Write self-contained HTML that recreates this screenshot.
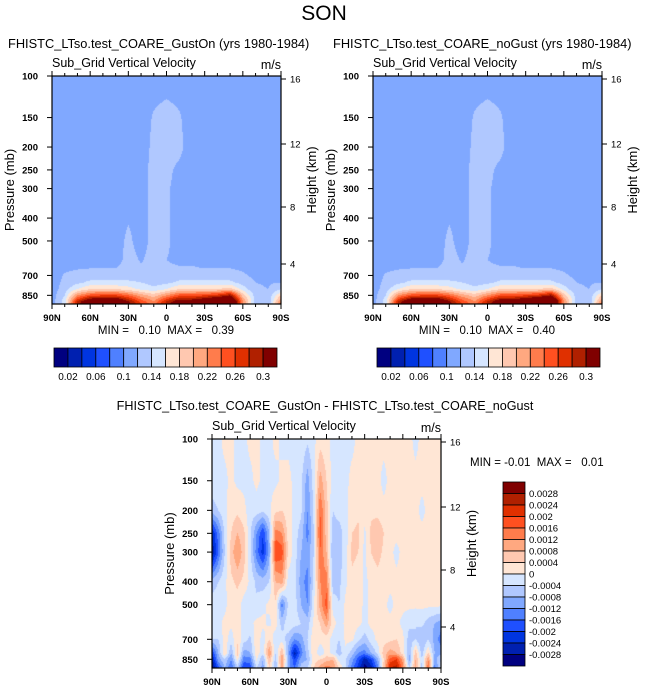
<!DOCTYPE html>
<html><head><meta charset="utf-8">
<style>
body{margin:0;background:#fff;width:648px;height:693px;overflow:hidden;position:relative;font-family:"Liberation Sans",Arial,sans-serif;}
.t{position:absolute;white-space:nowrap;color:#000;}
canvas{position:absolute;}
svg{position:absolute;left:0;top:0;}
</style></head>
<body>
<div class="t" style="left:0;width:648px;text-align:center;top:2px;font-size:21px;">SON</div>
<div class="t" style="left:8px;top:36px;font-size:12.8px;">FHISTC_LTso.test_COARE_GustOn (yrs 1980-1984)</div>
<div class="t" style="left:333px;top:36px;font-size:12.8px;">FHISTC_LTso.test_COARE_noGust (yrs 1980-1984)</div>
<div class="t" style="left:0;width:650px;text-align:center;top:399px;font-size:12.6px;">FHISTC_LTso.test_COARE_GustOn - FHISTC_LTso.test_COARE_noGust</div>
<canvas id="c1" width="229" height="228" style="left:52px;top:76px"></canvas>
<canvas id="c2" width="229" height="228" style="left:373px;top:76px"></canvas>
<canvas id="c3" width="229" height="229" style="left:212px;top:439px"></canvas>
<svg id="s" width="648" height="693"></svg>
<script>
const palette=["#000080","#0020b0","#0035e0","#1f50ff","#4f80ff","#80a8ff","#b0c8ff","#d6e6ff","#ffe6d5","#ffc8b0","#ffa880","#ff7c4c","#ff5020","#e03000","#b02000","#800000"];
const topLevels=[0.02,0.04,0.06,0.08,0.10,0.12,0.14,0.16,0.18,0.20,0.22,0.24,0.26,0.28,0.30];
const topLabels=["0.02","","0.06","","0.1","","0.14","","0.18","","0.22","","0.26","","0.3"];
const diffLevels=[-0.0028,-0.0024,-0.002,-0.0016,-0.0012,-0.0008,-0.0004,0,0.0004,0.0008,0.0012,0.0016,0.002,0.0024,0.0028];
const diffLabels=["-0.0028","-0.0024","-0.002","-0.0016","-0.0012","-0.0008","-0.0004","0","0.0004","0.0008","0.0012","0.0016","0.002","0.0024","0.0028"];
const pTicks=[100,150,200,250,300,400,500,700,850];
const latLabels=["90N","60N","30N","0","30S","60S","90S"];
const hTicks=["16","12","8","4"];
const topLats=[90,80,70,60,50,40,30,20,10,0,-10,-20,-30,-40,-50,-60,-70,-80,-90];
const topP=[100,150,200,250,300,400,500,600,700,750,800,850,900,925];
const gustOn=[
[11,11,11,11,11,11,11,11,11,11,11,11,11,11,11,11,11,11,11],
[11,11,11,11,11,11,11,11,12.2,12.8,12.2,11,11,11,11,11,11,11,11],
[11,11,11,11,11,11,11,11,12.5,12.9,12.5,11,11,11,11,11,11,11,11],
[11,11,11,11,11,11,11,11,12.8,12.4,11.6,11,11,11,11,11,11,11,11],
[11,11,11,11,11,11,11,11,12.8,12.2,11.5,11,11,11,11,11,11,11,11],
[11,11,11,11,11,11,11.8,11,12.8,12.4,11,11,11,11,11,11,11,11,11],
[11,11,11,11,11,11,12.5,11,12.8,12.4,11,11,11,11,11,11,11,11,11],
[11,11,11,11,11,11,12.8,11.8,12.8,12,11.5,11.5,11,11,11,11,11,11,11],
[11,12.2,12.6,12.8,12.8,12.8,12.8,12.6,12.5,12.6,12.8,12.8,12.8,12.8,12.8,12.3,11.5,11,11],
[11,12.5,13.5,14.5,14.5,14.5,14.5,14,13.2,13.5,14.5,14.5,14.5,14.5,14.5,13.2,12,11.8,12],
[11,13,16,18,18,18,17,15.5,14.5,16,18,18,18,18,19,15,12.3,12,14],
[11,14,22,25,26,26,24,21,19,22,25,25,26,27,30,19,13,12.5,18],
[11,15,28,34,35,35,30,25,22,28,32,32,34,37,39,22,13,12,22],
[11,15,29,35,36,36,31,26,23,29,33,33,35,38,39,22,13,12,24]];
const noGust=gustOn.map(r=>r.map(v=>v>30?v+0.6:v));
const diffLats=[];for(let i=0;i<37;i++)diffLats.push(90-5*i);
const diffP=[100,150,200,250,300,400,500,600,700,800,850,925];
const diffVals=[
[-1,-1,1,1,-1,-1,1,1,-1,-1,1,-1,-1,-1,-1,-3,-1,2,1,-1,-1,-1,-1,1,1,1,1,1,1,1,1,1,-1,1,1,1,1],
[-1,-1,-1,1,-1,-1,-1,1,-1,-1,-1,1,1,-1,-3,-10,-2,10,4,-2,-1,-1,1,1,1,1,1,-1,1,1,1,1,1,1,1,1,1],
[-6,-4,-1,2,3,1,-2,-2,-3,-1,3,4,1,-1,-3,-12,-3,16,6,-4,-2,-1,2,3,2,3,2,1,1,1,1,1,1,-1,1,1,1],
[-24,-14,-3,4,8,5,-3,-12,-20,-8,14,12,2,-2,-6,-14,-4,18,6,-6,-6,-2,4,5,-1,5,8,4,1,1,1,1,1,1,1,1,1],
[-28,-16,-4,6,12,6,-3,-14,-22,-10,20,18,3,-2,-8,-10,-4,16,8,-8,-6,-2,5,4,-1,4,6,3,1,-1,1,1,1,1,1,1,1],
[-6,-4,-1,3,5,3,-1,-5,-6,-4,8,10,-2,-3,-10,-14,-2,12,14,-6,-5,-1,3,2,-1,1,2,2,1,1,1,1,1,1,1,1,1],
[-2,-2,-1,2,2,-2,-3,-3,-1,1,3,-14,-3,-2,-8,-12,-1,10,18,-2,-4,1,3,2,-1,1,1,1,-1,1,1,1,1,1,1,1,1],
[-1,-1,1,1,1,-1,-1,1,1,-1,2,-6,-1,-2,-4,-6,1,4,10,2,-2,1,2,1,-1,1,1,1,1,1,-1,-3,-4,-3,-6,-8,-10],
[-4,-4,2,-2,3,-2,-5,3,-2,4,-3,-2,-6,-12,-10,-4,3,2,2,-2,-4,1,1,-3,-6,-2,1,2,3,4,1,-6,-4,-8,-4,-10,-14],
[-20,-8,4,-8,6,-10,-8,3,-3,12,-4,8,-10,-26,-14,-6,4,-4,2,-2,-6,-1,-6,-12,-14,-8,-3,6,10,8,2,-8,6,-6,4,-8,-10],
[-26,-10,-4,-12,2,-14,-14,1,-8,8,-6,12,-8,-20,-10,-8,2,4,6,8,-2,-4,-10,-18,-26,-20,-10,4,18,20,10,-10,8,-4,12,-10,-4],
[-30,-18,-8,-16,-6,-20,-18,-4,-10,4,-8,10,-10,-16,-6,-4,4,10,14,12,4,-4,-14,-22,-30,-26,-14,6,24,26,14,-4,10,-6,16,-14,-2]];

const NS="http://www.w3.org/2000/svg";
const svg=document.getElementById('s');
function mk(tag,attrs,name,text){const e=document.createElementNS(NS,tag);for(const k in attrs)e.setAttribute(k,attrs[k]);


if(text!==undefined)e.textContent=text;svg.appendChild(e);return e;}
function binColor(v,levels){let i=0;while(i<levels.length&&v>=levels[i])i++;return palette[i];}
function interp(arr,x){
  if(arr[0]>arr[arr.length-1]){for(let i=0;i<arr.length-1;i++){if(x<=arr[i]&&x>=arr[i+1])return i+(arr[i]-x)/(arr[i]-arr[i+1]);}return x>arr[0]?0:arr.length-1;}
  const lx=Math.log(x);for(let i=0;i<arr.length-1;i++){const a=Math.log(arr[i]),b=Math.log(arr[i+1]);if(lx>=a&&lx<=b)return i+(lx-a)/(b-a);}return lx<Math.log(arr[0])?0:arr.length-1;}
function sample(grid,fi,fj){const i0=Math.min(Math.floor(fi),grid.length-2),j0=Math.min(Math.floor(fj),grid[0].length-2);const di=fi-i0,dj=fj-j0;
 return grid[i0][j0]*(1-di)*(1-dj)+grid[i0+1][j0]*di*(1-dj)+grid[i0][j0+1]*(1-di)*dj+grid[i0+1][j0+1]*di*dj;}
function panel(x0,y0,w,h,canvasId,lats,ps,grid,scale,levels){
  const ppx=h/Math.log(925/100);
  const yOf=p=>y0+Math.log(p/100)*ppx;
  const ctx=document.getElementById(canvasId).getContext('2d');
  for(let py=0;py<h;py++){const p=100*Math.exp((py+0.5)/ppx);const fi=interp(ps,p);
    for(let px=0;px<w;px++){const lat=90-(px+0.5)/w*180;const fj=interp(lats,lat);
      ctx.fillStyle=binColor(sample(grid,fi,fj)*scale,levels);ctx.fillRect(px,py,1,1);}}
  mk('rect',{x:x0,y:y0,width:w,height:h,fill:'none',stroke:'#000','stroke-width':1.2},'plot-frame');
  pTicks.forEach(p=>{const y=yOf(p);mk('line',{x1:x0-5,x2:x0,y1:y,y2:y,stroke:'#000'},'y-tick');
    mk('text',{x:x0-14,y:y+3.5,'text-anchor':'end','font-size':9.5,'font-weight':'bold','font-family':'Liberation Sans'},'y-tick-label',String(p));});
  for(let k=0;k<=18;k++){const x=x0+k*w/18;const big=k%3==0;
    mk('line',{x1:x,x2:x,y1:y0+h,y2:y0+h+(big?5:3),stroke:'#000'},'x-tick');
    mk('line',{x1:x,x2:x,y1:y0,y2:y0-(big?5:3),stroke:'#000'},'top-tick');}
  latLabels.forEach((l,k)=>mk('text',{x:x0+k*w/6,y:y0+h+17,'text-anchor':'middle','font-size':9.5,'font-weight':'bold','font-family':'Liberation Sans'},'x-tick-label',l));
  const hY=[y0+3,y0+68,y0+131,y0+188];
  hTicks.forEach((t,k)=>{mk('line',{x1:x0+w,x2:x0+w+5,y1:hY[k],y2:hY[k],stroke:'#000'},'height-tick');
    mk('text',{x:x0+w+9,y:hY[k]+3.5,'font-size':9.5,'font-family':'Liberation Sans'},'height-tick-label',t);});
  mk('text',{x:x0,y:y0-9,'font-size':12.5,'font-family':'Liberation Sans'},'subplot-title','Sub_Grid Vertical Velocity');
  mk('text',{x:x0+w,y:y0-7,'text-anchor':'end','font-size':12.5,'font-family':'Liberation Sans'},'units-label','m/s');
  mk('text',{x:x0-38,y:y0+h/2,'text-anchor':'middle','font-size':13,transform:`rotate(-90 ${x0-38} ${y0+h/2})`,'font-family':'Liberation Sans'},'y-axis-title','Pressure (mb)');
  mk('text',{x:x0+w+35,y:y0+h/2-10,'text-anchor':'middle','font-size':13,transform:`rotate(-90 ${x0+w+35} ${y0+h/2-10})`,'font-family':'Liberation Sans'},'right-axis-title','Height (km)');
}
panel(52,76,229,228,'c1',topLats,topP,gustOn,0.01,topLevels);
panel(373,76,229,228,'c2',topLats,topP,noGust,0.01,topLevels);
panel(212,439,229,229,'c3',diffLats,diffP,diffVals,0.0001,diffLevels);
mk('text',{x:166,y:334,'text-anchor':'middle','font-size':11.5,'font-family':'Liberation Sans',style:'white-space:pre'},'minmax-left','MIN =   0.10  MAX =   0.39');
mk('text',{x:487,y:334,'text-anchor':'middle','font-size':11.5,'font-family':'Liberation Sans',style:'white-space:pre'},'minmax-right','MIN =   0.10  MAX =   0.40');
mk('text',{x:470,y:466,'font-size':11.5,'font-family':'Liberation Sans',style:'white-space:pre'},'minmax-diff','MIN = -0.01  MAX =   0.01');
function hbar(x0,y0,w,h){const bw=w/16;palette.forEach((c,i)=>mk('rect',{x:x0+i*bw,y:y0,width:bw,height:h,fill:c,stroke:'#000','stroke-width':0.8},'colorbar-box'));
  topLabels.forEach((l,i)=>{if(l)mk('text',{x:x0+(i+1)*bw,y:y0+h+13,'text-anchor':'middle','font-size':10,'font-family':'Liberation Sans'},'colorbar-label',l);});}
hbar(54,348,223,19);hbar(377,348,223,19);
(function(){const x0=503,y0=482,w=22,h=184,bh=h/16;
 palette.slice().reverse().forEach((c,i)=>mk('rect',{x:x0,y:y0+i*bh,width:w,height:bh,fill:c,stroke:'#000','stroke-width':0.8},'diff-colorbar-box'));
 diffLabels.slice().reverse().forEach((l,i)=>mk('text',{x:x0+w+4,y:y0+(i+1)*bh+3.5,'font-size':9.5,'font-family':'Liberation Sans'},'diff-colorbar-label',l));})();
</script>
</body></html>
